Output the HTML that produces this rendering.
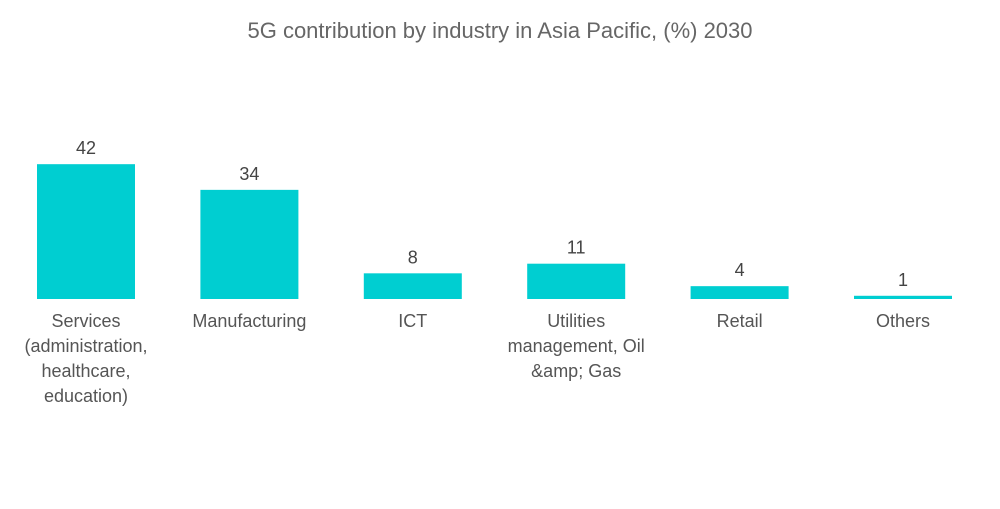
<!DOCTYPE html>
<html><head><meta charset="utf-8"><style>
body{margin:0;background:#fff;font-family:"Liberation Sans",sans-serif}
svg text{font-family:"Liberation Sans",sans-serif}
</style></head><body>
<svg id="chart" width="1000" height="504" xmlns="http://www.w3.org/2000/svg">
<text x="500" y="38" text-anchor="middle" font-size="22" fill="#666">5G contribution by industry in Asia Pacific, (%) 2030</text>
<g id="bars"></g>
</svg>
<script>
const categories=[["Services","(administration,","healthcare,","education)"],["Manufacturing"],["ICT"],["Utilities","management, Oil","&amp; Gas"],["Retail"],["Others"]];
const values=[42,34,8,11,4,1];
const baseY=299, scale=3.21, x0=37, step=163.4, bw=98;
const ns="http://www.w3.org/2000/svg";
const g=document.getElementById('bars');
function yOf(v){return baseY-v*scale;}
function xOf(i){return x0+i*step;}
values.forEach((v,i)=>{
  const r=document.createElementNS(ns,'rect');
  
  
  r.setAttribute('x',xOf(i));r.setAttribute('y',yOf(v));
  r.setAttribute('width',bw);r.setAttribute('height',baseY-yOf(v));
  r.setAttribute('fill','#00CED1');g.appendChild(r);
  const t=document.createElementNS(ns,'text');
  
  
  t.setAttribute('x',xOf(i)+bw/2);t.setAttribute('y',yOf(v)-10);
  t.setAttribute('text-anchor','middle');t.setAttribute('font-size','18');t.setAttribute('fill','#444');
  t.textContent=v;g.appendChild(t);
  categories[i].forEach((line,j)=>{
    const c=document.createElementNS(ns,'text');
    
    
    c.setAttribute('x',xOf(i)+bw/2);c.setAttribute('y',327+j*25);
    c.setAttribute('text-anchor','middle');c.setAttribute('font-size','18');c.setAttribute('fill','#555');
    c.textContent=line;g.appendChild(c);
  });
});
</script>
</body></html>
